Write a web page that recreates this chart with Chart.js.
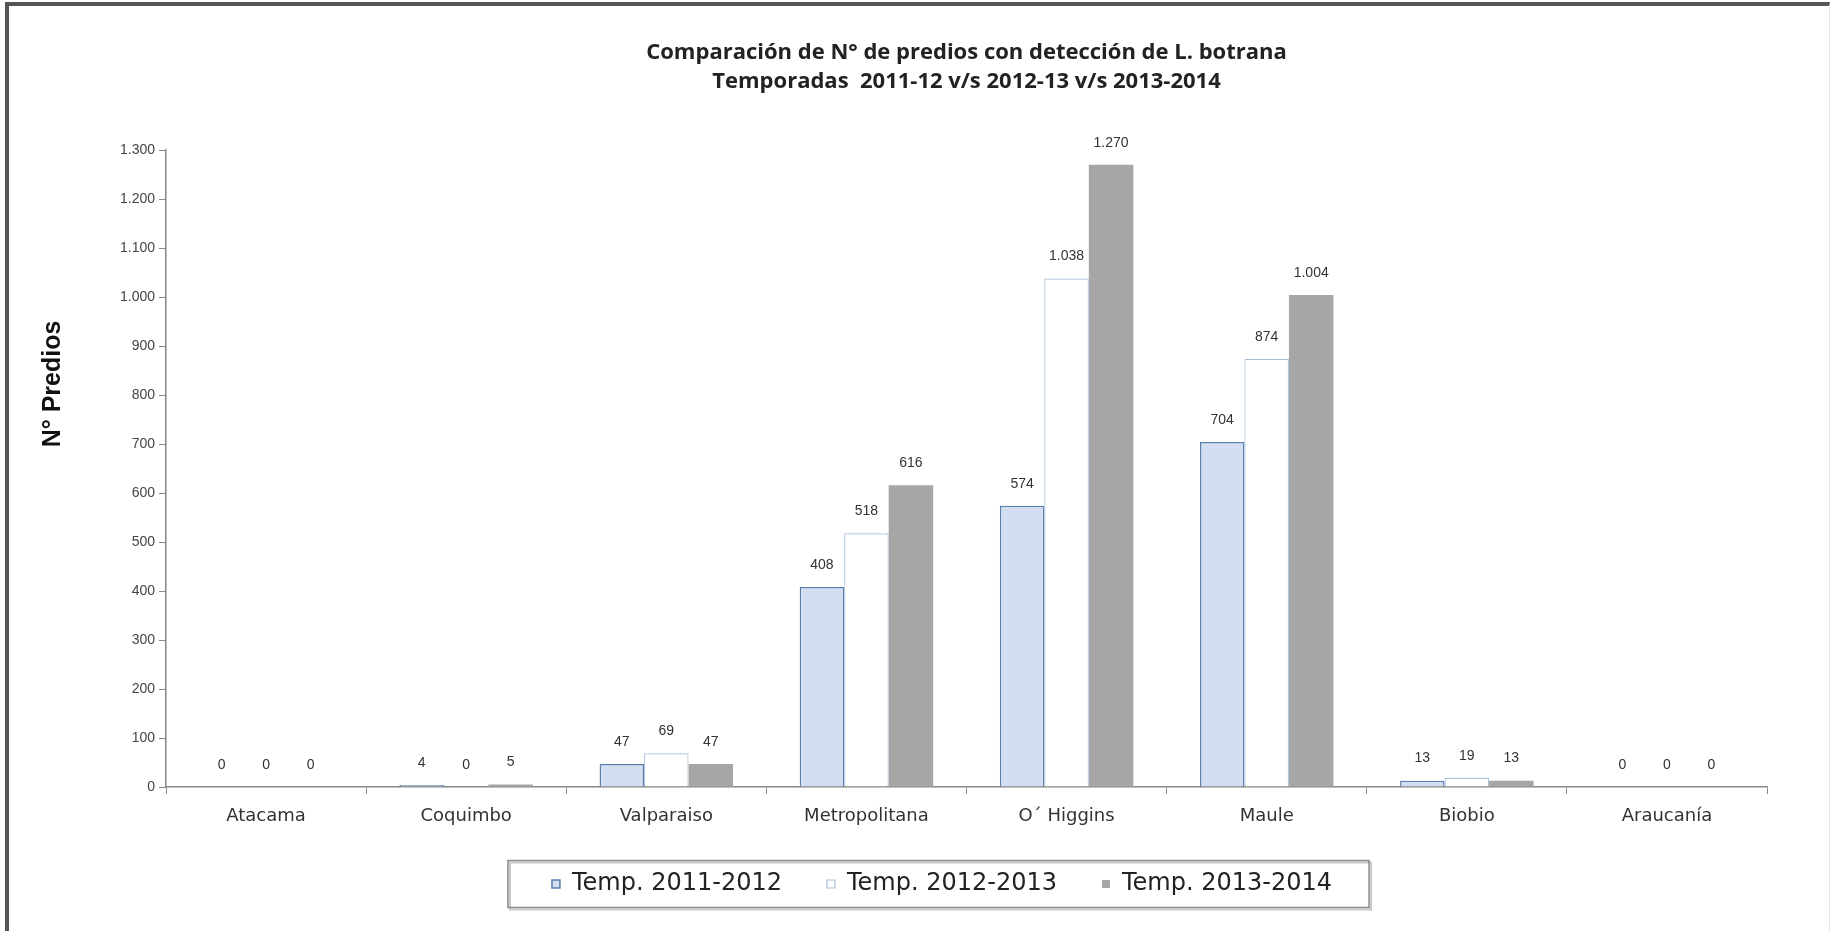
<!DOCTYPE html>
<html>
<head>
<meta charset="utf-8">
<script src="https://cdn.jsdelivr.net/npm/chart.js@4.4.1/dist/chart.umd.min.js"></script>
<style>
body { margin: 0; background: #fff; }
#wrap { position: relative; width: 1837px; height: 931px; overflow: hidden; }
#frame { position: absolute; left: 5px; top: 2px; width: 1820px; height: 940px;
  border-top: 4px solid #555; border-left: 4px solid #555; border-right: 1px solid #e2e2e2;
  pointer-events: none; }
</style>
</head>
<body>
<div id="wrap"><canvas id="chart"></canvas><div id="frame"></div></div>
<script>
var regiones = ['Atacama', 'Coquimbo', 'Valparaiso', 'Metropolitana', 'O´ Higgins', 'Maule', 'Biobio', 'Araucanía'];
var temp_2011_2012 = [0, 4, 47, 408, 574, 704, 13, 0];
var temp_2012_2013 = [0, 0, 69, 518, 1038, 874, 19, 0];
var temp_2013_2014 = [0, 5, 47, 616, 1270, 1004, 13, 0];
var series_labels = ['Temp. 2011-2012', 'Temp. 2012-2013', 'Temp. 2013-2014'];
var y_max = 1300;
var y_step = 100;

// separador de miles con punto
function fmt(v) {
    return v.toString().replace(/\B(?=(\d{3})+(?!\d))/g, '.');
}

var barLabels = {
    id: 'barLabels',
    afterDatasetsDraw: function(chart) {
        var ctx = chart.ctx;
        ctx.save();
        ctx.font = '14px "Liberation Sans"';
        ctx.fillStyle = '#333';
        ctx.textAlign = 'center';
        ctx.textBaseline = 'middle';
        chart.data.datasets.forEach(function(ds, i) {
            chart.getDatasetMeta(i).data.forEach(function(bar, j) {
                ctx.fillText(fmt(ds.data[j]), bar.x, bar.y - 22);
            });
        });
        ctx.restore();
    }
};

var extras = {
    id: 'extras',
    afterDraw: function(chart) {
        var ctx = chart.ctx;
        // titulo eje Y
        ctx.save();
        ctx.translate(53, 384);
        ctx.rotate(-Math.PI / 2);
        ctx.font = 'bold 25px "Liberation Sans"';
        ctx.fillStyle = '#111';
        ctx.textAlign = 'center';
        ctx.textBaseline = 'middle';
        ctx.fillText('N° Predios', 0, 0);
        ctx.restore();
        // marco de la leyenda
        var hb = chart.legend.legendHitBoxes;
        if (hb && hb.length) {
            var first = hb[0], last = hb[hb.length - 1];
            var cy = first.top + first.height / 2;
            var x0 = first.left - 44, x1 = last.left + last.width + 37;
            ctx.save();
            ctx.strokeStyle = '#c8c8c8';
            ctx.lineWidth = 2;
            ctx.strokeRect(x0 + 2, cy - 21.5, x1 - x0, 47);
            ctx.strokeStyle = '#8a8a8a';
            ctx.lineWidth = 1.5;
            ctx.strokeRect(x0, cy - 23.5, x1 - x0, 47);
            ctx.restore();
        }
    }
};

new Chart(document.getElementById('chart'), {
    type: 'bar',
    data: {
        labels: regiones,
        datasets: [
            {
                label: series_labels[0],
                data: temp_2011_2012,
                backgroundColor: '#d3dff0',
                borderColor: '#5a7fae',
                borderWidth: 1.5
            },
            {
                label: series_labels[1],
                data: temp_2012_2013,
                backgroundColor: '#ffffff',
                borderColor: '#a8c0dc',
                borderWidth: 1.2
            },
            {
                label: series_labels[2],
                data: temp_2013_2014,
                backgroundColor: '#a6a6a6',
                borderColor: '#a6a6a6',
                borderWidth: 0
            }
        ]
    },
    options: {
        responsive: true,
        maintainAspectRatio: false,
        animation: false,
        layout: { padding: { left: 117, right: 70, top: 0, bottom: 25 } },
        datasets: { bar: { categoryPercentage: 0.667, barPercentage: 1 } },
        plugins: {
            title: {
                display: true,
                fullSize: false,
                text: ['Comparación de N° de predios con detección de L. botrana',
                       'Temporadas  2011-12 v/s 2012-13 v/s 2013-2014'],
                color: '#222',
                font: { family: 'Open Sans', size: 22, weight: 'bold', lineHeight: 1.32 },
                padding: { top: 38, bottom: 54 }
            },
            legend: {
                position: 'bottom',
                labels: {
                    font: { family: 'DejaVu Sans', size: 24 },
                    color: '#222',
                    boxWidth: 8,
                    boxHeight: 8,
                    padding: 45
                }
            },
            tooltip: { enabled: false }
        },
        scales: {
            x: {
                grid: { offset: true, drawOnChartArea: false, tickLength: 7, color: '#888' },
                border: { color: '#888', width: 1.5 },
                ticks: { padding: 12, font: { family: 'DejaVu Sans', size: 18 }, color: '#333', maxRotation: 0, autoSkip: false },
                afterFit: function(s) { s.height = 40; }
            },
            y: {
                min: 0,
                max: y_max,
                ticks: { stepSize: y_step, callback: fmt, font: { family: 'Liberation Sans', size: 14 }, color: '#444', padding: 4 },
                grid: { drawOnChartArea: false, tickLength: 7, color: '#888' },
                border: { color: '#888', width: 1.5 },
                afterFit: function(s) { s.width = 49; }
            }
        }
    },
    plugins: [barLabels, extras]
});
</script>
</body>
</html>
